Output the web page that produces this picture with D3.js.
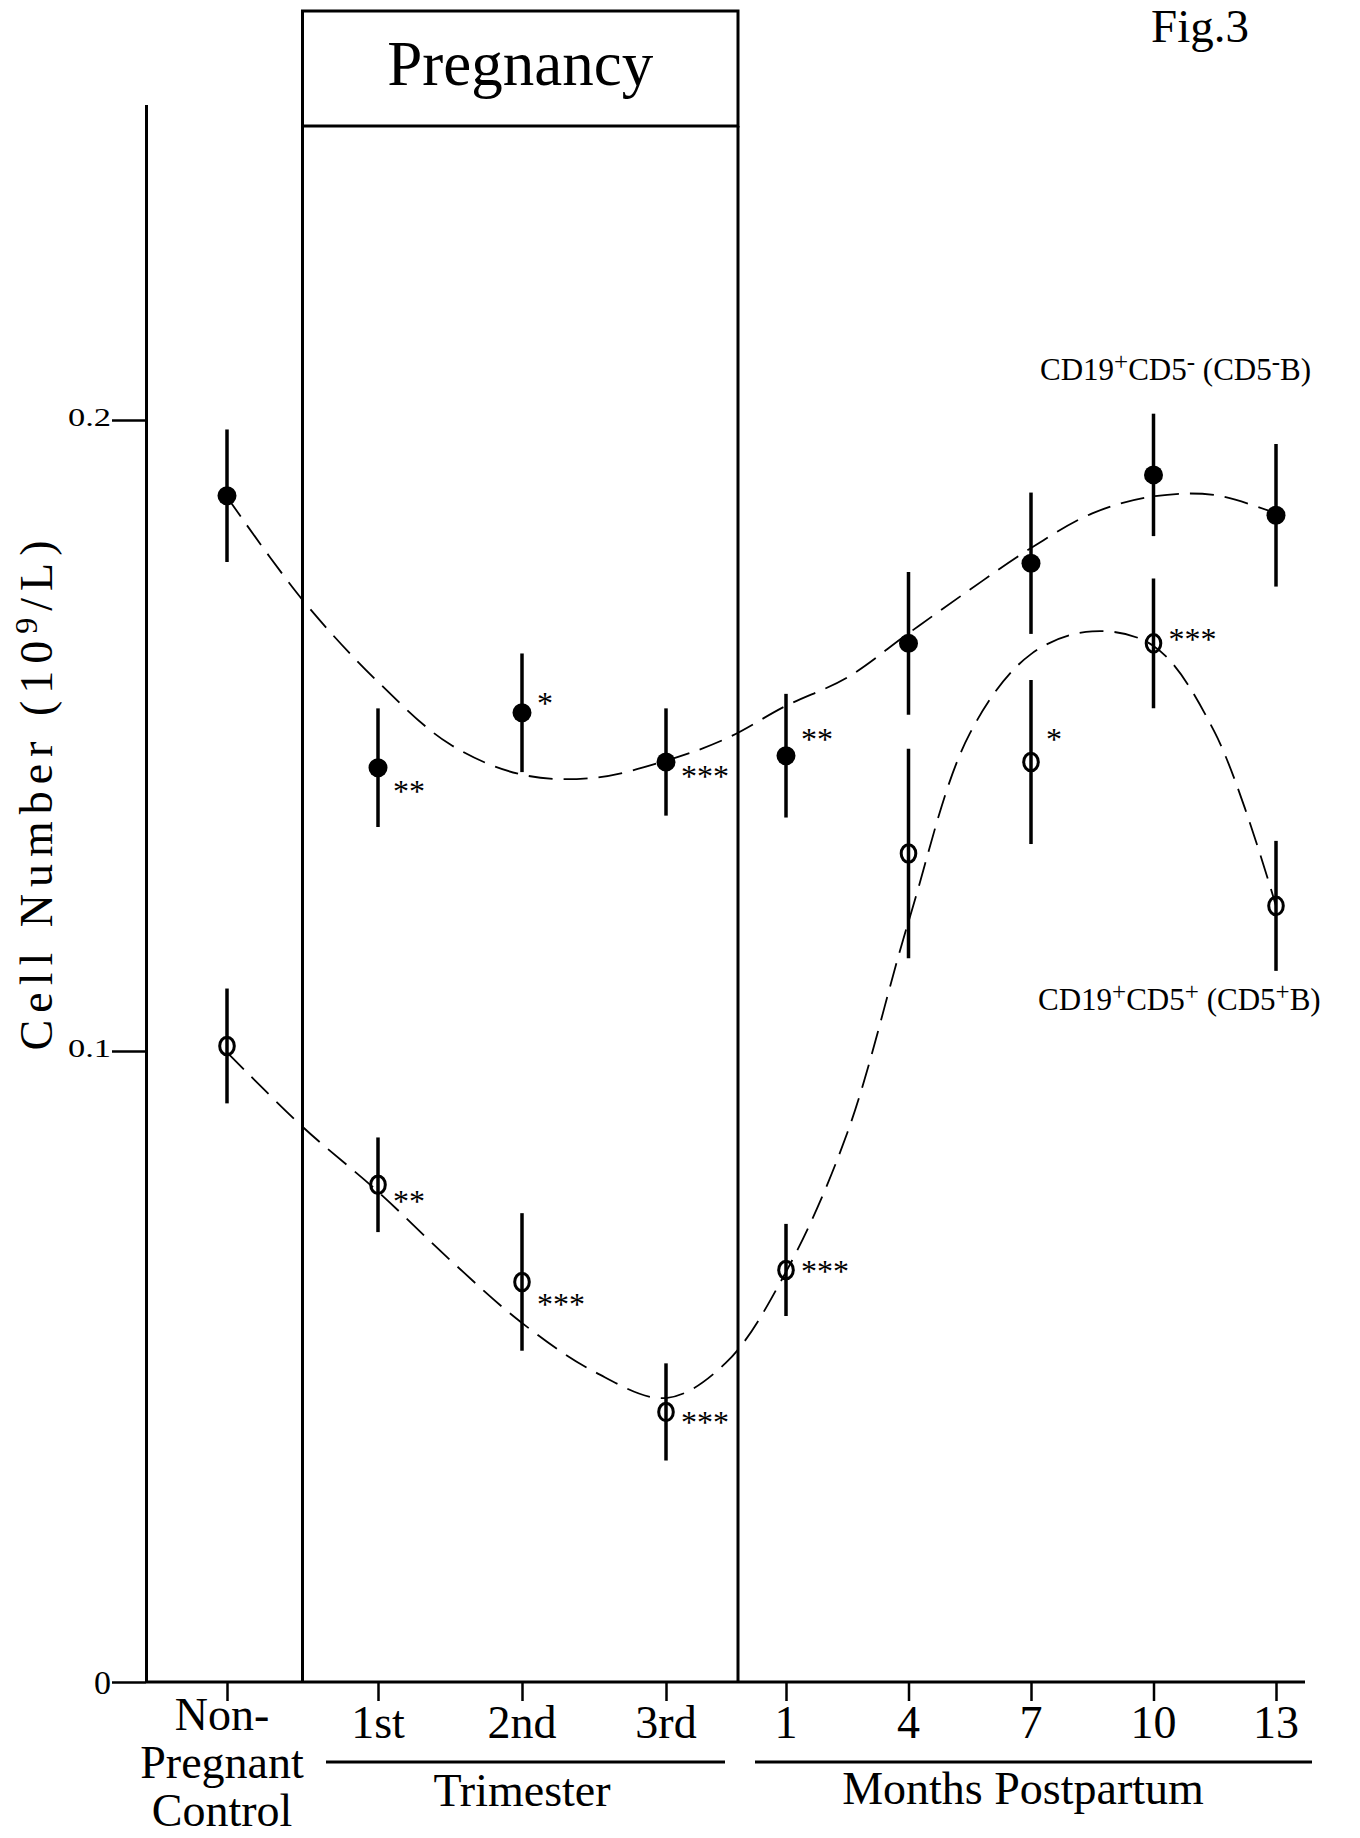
<!DOCTYPE html>
<html>
<head>
<meta charset="utf-8">
<script src="https://cdn.jsdelivr.net/npm/d3@7"></script>
<style>
  body { margin: 0; background: #fff; }
  svg { display: block; }
  text { font-family: "Liberation Serif", "Times New Roman", serif; fill: #000; }
</style>
</head>
<body>
<svg id="chart" width="1360" height="1838"></svg>
<script>
// ---- data -------------------------------------------------------------
// Sampling points along the x axis (0 = non-pregnant control, 1-3 = trimesters,
// 4-8 = 1, 4, 7, 10, 13 months postpartum)
const categories = ["Non-Pregnant Control", "1st", "2nd", "3rd", "1", "4", "7", "10", "13"];
const tickLabels = [["Non-", "Pregnant", "Control"], ["1st"], ["2nd"], ["3rd"], ["1"], ["4"], ["7"], ["10"], ["13"]];

// CD19+CD5- (CD5-B) cells, 10^9/L, mean and error
const cd5NegMean = [0.1880, 0.1449, 0.1536, 0.1458, 0.1468, 0.1646, 0.1773, 0.1913, 0.1849];
const cd5NegErr  = [0.0105, 0.0094, 0.0094, 0.0085, 0.0098, 0.0113, 0.0112, 0.0097, 0.0113];
const cd5NegSig  = ["", "**", "*", "***", "**", "", "", "", ""];

// CD19+CD5+ (CD5+B) cells, 10^9/L, mean and error
const cd5PosMean = [0.1008, 0.0788, 0.0634, 0.0428, 0.0653, 0.1313, 0.1458, 0.1646, 0.1230];
const cd5PosErr  = [0.0091, 0.0075, 0.0109, 0.0077, 0.0073, 0.0166, 0.0130, 0.0103, 0.0103];
const cd5PosSig  = ["", "**", "***", "***", "***", "", "*", "***", ""];

// Fitted trend curves, sampled every half step along the x axis
const fitSteps   = [0, 0.5, 1, 1.5, 2, 2.5, 3, 3.5, 4, 4.5, 5, 5.5, 6, 6.5, 7, 7.5, 8];
const cd5NegFit  = [0.1878, 0.1715, 0.1585, 0.1486, 0.1438, 0.1433, 0.1460, 0.1495, 0.1547,
                    0.1592, 0.1662, 0.1731, 0.1797, 0.1852, 0.1879, 0.1881, 0.1852];
const cd5PosFit  = [0.0998, 0.0880, 0.0777, 0.0669, 0.0569, 0.0492, 0.0450, 0.0506, 0.0650,
                    0.0870, 0.1205, 0.1503, 0.1629, 0.1665, 0.1642, 0.1505, 0.1230];

const yTicks = [0, 0.1, 0.2];

// ---- scales -------------------------------------------------------------
const svg = d3.select("#chart");
// trimesters and postpartum months are spaced differently on the axis
const x = d3.scaleLinear().domain([0, 1, 3, 4, 8]).range([227, 378, 666, 786, 1276]);
const y = d3.scaleLinear().domain([0, 0.25]).range([1682, 104.5]);
const axisX0 = 146, axisX1 = 1305;
const serif = '"Liberation Serif", "Times New Roman", serif';

// ---- pregnancy box ------------------------------------------------------
const boxL = x(0.5), boxR = x(3.6), boxTop = 11, boxHead = 126;
const box = svg.append("g").attr("stroke", "#000").attr("stroke-width", 3).attr("fill", "none");
box.append("rect").attr("x", boxL).attr("y", boxTop).attr("width", boxR - boxL).attr("height", boxHead - boxTop);
box.append("line").attr("x1", boxL).attr("x2", boxL).attr("y1", boxHead).attr("y2", y(0));
box.append("line").attr("x1", boxR).attr("x2", boxR).attr("y1", boxHead).attr("y2", y(0));
svg.append("text").attr("x", (boxL + boxR) / 2).attr("y", 85)
  .attr("text-anchor", "middle").attr("font-size", 63).text("Pregnancy");

svg.append("text").attr("x", 1151).attr("y", 42).attr("font-size", 47).text("Fig.3");

// ---- axes ---------------------------------------------------------------
const yAxis = svg.append("g").attr("transform", `translate(${axisX0},0)`)
  .call(d3.axisLeft(y).tickValues(yTicks).tickSize(34).tickSizeOuter(0).tickPadding(1)
    .tickFormat(d => d === 0 ? "0" : d3.format(".1f")(d)));
yAxis.select(".domain").attr("stroke-width", 3);
yAxis.selectAll(".tick line").attr("stroke-width", 2.5);
yAxis.selectAll(".tick text").style("font-family", serif)
  .each(function (d) {
    const t = d3.select(this);
    if (d === 0) {
      t.attr("font-size", 34).attr("dy", "0.33em");
    } else {
      // decimal labels are set wide
      t.attr("font-size", 25).attr("dy", "0.22em")
        .attr("textLength", 43).attr("lengthAdjust", "spacingAndGlyphs");
    }
  });

svg.append("line").attr("x1", axisX0).attr("x2", axisX1).attr("y1", y(0)).attr("y2", y(0))
  .attr("stroke", "#000").attr("stroke-width", 3);

const xAxis = svg.append("g").attr("transform", `translate(0,${y(0)})`)
  .call(d3.axisBottom(x).tickValues(d3.range(categories.length)).tickSize(19).tickFormat(""));
xAxis.select(".domain").remove();
xAxis.selectAll(".tick line").attr("stroke-width", 2.5);

// category labels
categories.forEach((c, i) => {
  const lines = tickLabels[i];
  const cx = lines.length > 1 ? x(i) - 5 : x(i);
  const t = svg.append("text").attr("text-anchor", "middle").attr("font-size", 46)
    .attr("x", cx).attr("y", lines.length > 1 ? 1730 : 1738);
  lines.forEach((l, k) => t.append("tspan").attr("x", cx).attr("dy", k === 0 ? 0 : 48).text(l));
});

// group underlines and titles
const groupLine = (a, b) => svg.append("line").attr("x1", a).attr("x2", b)
  .attr("y1", 1762).attr("y2", 1762).attr("stroke", "#000").attr("stroke-width", 3);
groupLine(326, 725);
groupLine(755, 1312);
svg.append("text").attr("x", x(2)).attr("y", 1806).attr("text-anchor", "middle")
  .attr("font-size", 46).text("Trimester");
svg.append("text").attr("x", 1023).attr("y", 1804).attr("text-anchor", "middle")
  .attr("font-size", 46).text("Months Postpartum");

// y axis title
const yt = svg.append("text").attr("transform", "translate(52,792) rotate(-90)")
  .attr("text-anchor", "middle").attr("font-size", 46).attr("letter-spacing", 7);
yt.append("tspan").text("Cell Number (10");
yt.append("tspan").attr("font-size", 32).attr("dy", -15).text("9");
yt.append("tspan").attr("dy", 15).text("/L)");

// ---- fitted curves --------------------------------------------------------
const fitLine = d3.line().x(d => x(d[0])).y(d => y(d[1])).curve(d3.curveCatmullRom.alpha(0.5));
[cd5NegFit, cd5PosFit].forEach(fit => {
  svg.append("path").attr("d", fitLine(fitSteps.map((s, i) => [s, fit[i]])))
    .attr("fill", "none").attr("stroke", "#000").attr("stroke-width", 1.8)
    .attr("stroke-dasharray", "24 11");
});

// ---- error bars and markers ---------------------------------------------
function drawSeries(mean, err, filled) {
  const g = svg.append("g");
  g.selectAll("line.err").data(mean).join("line").attr("class", "err")
    .attr("x1", (d, i) => x(i)).attr("x2", (d, i) => x(i))
    .attr("y1", (d, i) => y(d + err[i])).attr("y2", (d, i) => y(d - err[i]))
    .attr("stroke", "#000").attr("stroke-width", 3.5);
  if (filled) {
    g.selectAll("circle").data(mean).join("circle")
      .attr("cx", (d, i) => x(i)).attr("cy", d => y(d)).attr("r", 9.5).attr("fill", "#000");
  } else {
    g.selectAll("ellipse").data(mean).join("ellipse")
      .attr("cx", (d, i) => x(i)).attr("cy", d => y(d)).attr("rx", 7.3).attr("ry", 8.8)
      .attr("fill", "none").attr("stroke", "#000").attr("stroke-width", 3);
  }
}
drawSeries(cd5NegMean, cd5NegErr, true);
drawSeries(cd5PosMean, cd5PosErr, false);

// significance marks, placed to the right of each point (vertical nudge in px)
const negNudge = [0, 19, -14, 10, -21, 0, 0, 0, 0];
const posNudge = [0, 12, 18, 6, -3, 0, -27, -8, 0];
function drawSig(mean, sig, nudge) {
  sig.forEach((s, i) => {
    if (!s) return;
    svg.append("text").attr("x", x(i) + 15).attr("y", y(mean[i]) + nudge[i] + 15)
      .attr("font-size", 32).text(s);
  });
}
drawSig(cd5NegMean, cd5NegSig, negNudge);
drawSig(cd5PosMean, cd5PosSig, posNudge);

// ---- series labels ---------------------------------------------------------
function seriesLabel(xp, yp, parts) {
  const t = svg.append("text").attr("x", xp).attr("y", yp).attr("font-size", 31);
  let raised = false;
  parts.forEach(p => {
    const sp = t.append("tspan");
    if (p.sup) {
      sp.attr("font-size", 25).attr("dy", -10).text(p.sup);
      raised = true;
    } else {
      if (raised) sp.attr("dy", 10);
      raised = false;
      sp.text(p.t);
    }
  });
}
seriesLabel(1040, 380, [{t: "CD19"}, {sup: "+"}, {t: "CD5"}, {sup: "-"}, {t: " (CD5"}, {sup: "-"}, {t: "B)"}]);
seriesLabel(1038, 1010, [{t: "CD19"}, {sup: "+"}, {t: "CD5"}, {sup: "+"}, {t: " (CD5"}, {sup: "+"}, {t: "B)"}]);
</script>
</body>
</html>
